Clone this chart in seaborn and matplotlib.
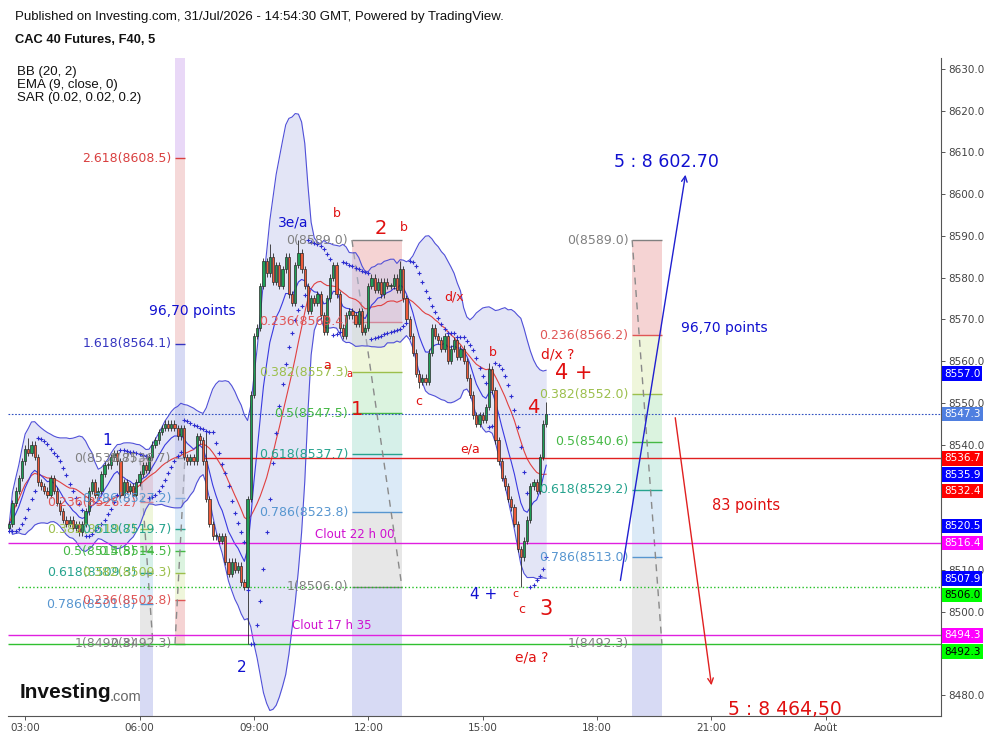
import numpy as np, pandas as pd
import matplotlib as mpl, matplotlib.pyplot as plt
import seaborn as sns
import matplotlib.transforms as mtransforms

sns.set_theme(style='white')
plt.rcParams['font.family'] = ['DejaVu Sans']

#%% data (5-minute closes, 02:35 -> 16:40)
seg_0235 = [8521, 8526, 8529, 8532, 8536, 8539, 8538, 8540, 8537, 8531, 8530, 8529]
seg_0335 = [8528, 8532, 8529, 8526, 8524, 8522, 8521, 8522, 8520, 8521, 8519, 8521]
seg_0435 = [8524, 8529, 8531, 8528, 8529, 8533, 8535, 8535, 8537, 8538, 8536, 8528]
seg_0535 = [8531, 8529, 8530, 8528, 8531, 8533, 8535, 8534, 8537, 8540, 8541, 8543]
seg_0635 = [8544, 8545, 8544, 8545, 8544, 8542, 8544, 8537, 8536, 8537, 8536, 8542]
seg_0735 = [8541, 8536, 8527, 8521, 8518, 8518, 8517, 8518, 8512, 8509, 8512, 8510]
seg_0835 = [8511, 8507, 8506, 8527, 8552, 8566, 8568, 8578, 8584, 8581, 8585, 8579]
seg_0935 = [8583, 8578, 8582, 8585, 8576, 8574, 8583, 8586, 8582, 8578, 8572, 8575]
seg_1035 = [8574, 8576, 8571, 8567, 8575, 8580, 8583, 8576, 8568, 8566, 8571, 8572]
seg_1135 = [8571, 8569, 8572, 8567, 8568, 8578, 8580, 8577, 8579, 8576, 8579, 8578]
seg_1235 = [8578, 8580, 8577, 8582, 8575, 8570, 8566, 8562, 8557, 8555, 8556, 8555]
seg_1335 = [8562, 8568, 8566, 8565, 8563, 8566, 8560, 8563, 8565, 8561, 8563, 8560]
seg_1435 = [8556, 8552, 8547, 8545, 8547, 8546, 8549, 8558, 8553, 8541, 8536, 8532]
seg_1535 = [8530, 8527, 8525, 8521, 8515, 8513, 8517, 8522, 8530, 8531, 8529, 8537, 8545, 8547.3]
first_open = 8520.0
# notable wick extremes {bar index: value}
wick_highs = {6: 8541.5, 62: 8543.0, 82: 8588.0, 91: 8589.0, 123: 8584.0, 151: 8559.5, 169: 8550.2}
wick_lows = {75: 8492.3, 129: 8553.5, 161: 8506.0}

# fibonacci tools: price at level 0 / level 1, time span (hours)
fib_p0 = [8536.7, 8492.3, 8589.0, 8588.97]
fib_p1 = [8492.3, 8536.7, 8506.0, 8492.3]
fib_t0 = [6.01, 6.93, 11.57, 18.92]
fib_t1 = [6.35, 7.19, 12.88, 19.70]
fib_label_max = [1, 2.618, 1, 1]
fib_fill_max = [1.618, 3.618, 1.618, 1.618]
fib_levels = [0, 0.236, 0.382, 0.5, 0.618, 0.786, 1, 1.618, 2.618, 3.618]
fib_names = ['0', '0.236', '0.382', '0.5', '0.618', '0.786', '1', '1.618', '2.618', '3.618']
fib_line_colors = ['#808080', '#e05656', '#9cbf4c', '#45b845', '#26a38e', '#5796d0',
                   '#808080', '#3535c0', '#d94040', '#9c4fd0']
fib_fill_colors = ['#f3c9c9', '#ebf4d2', '#d2f1d8', '#ccede4', '#d2e5f5', '#e2e2e2',
                   '#ced1f2', '#f3cfcf', '#e4cff5']

# horizontal drawn lines
hl_values = [8536.7, 8516.4, 8494.3, 8506.0, 8492.3]
hl_start = [7.68, 2.55, 2.55, 2.81, 2.55]
hl_colors = ['#e02020', '#e020e0', '#e020e0', '#20c020', '#30c030']
hl_styles = ['-', '-', '-', ':', '-']
last_price = 8547.3

# right axis price tags
tag_values = [8557.0, 8547.3, 8536.7, 8535.9, 8532.4, 8520.5, 8516.4, 8507.9, 8506.0, 8494.3, 8492.3]
tag_colors = ['#0000ff', '#4f7fe0', '#ff0000', '#0000ff', '#ff0000', '#0000ff', '#ff00ff',
              '#0000ff', '#00ff00', '#ff00ff', '#00ff00']
tag_text = ['white'] * 8 + ['black', 'white', 'black']
hidden_ticks = [8490, 8520, 8530]   # covered by tags on the reference

xtick_hours = [3, 6, 9, 12, 15, 18, 21, 24]
xtick_labels = ['03:00', '06:00', '09:00', '12:00', '15:00', '18:00', '21:00', 'Août']

# wave labels (hour, price, text, colour, size)
notes = [
    (7.38, 8572.0, '96,70 points', '#1010d0', 10),
    (21.33, 8567.9, '96,70 points', '#1010d0', 10),
    (21.91, 8525.5, '83 points', '#e01010', 10.5),
    (19.83, 8607.7, '5 : 8 602.70', '#1010d0', 12.5),
    (22.93, 8476.6, '5 : 8 464,50', '#e01010', 13.5),
    (5.15, 8541.1, '1', '#1010d0', 11),
    (8.69, 8486.5, '2', '#1010d0', 11),
    (10.03, 8593.1, '3e/a', '#1010d0', 10),
    (15.03, 8504.2, '4 +', '#1010d0', 11),
    (11.18, 8595.3, 'b', '#e01010', 9),
    (12.33, 8591.7, '2', '#e01010', 14),
    (12.94, 8591.9, 'b', '#e01010', 9),
    (10.92, 8559.0, 'a', '#e01010', 9),
    (11.50, 8556.9, 'a', '#e01010', 7),
    (11.70, 8548.3, '1', '#e01010', 14),
    (14.25, 8575.4, 'd/x', '#e01010', 9),
    (13.33, 8550.4, 'c', '#e01010', 9),
    (15.27, 8562.0, 'b', '#e01010', 9),
    (14.67, 8538.9, 'e/a', '#e01010', 9),
    (16.32, 8549.0, '4', '#e01010', 14),
    (16.97, 8561.5, 'd/x ?', '#e01010', 10),
    (17.39, 8557.2, '4 +', '#e01010', 15),
    (15.87, 8504.2, 'c', '#e01010', 8),
    (16.03, 8500.4, 'c', '#e01010', 9),
    (16.66, 8500.6, '3', '#e01010', 15),
    (16.29, 8488.9, 'e/a ?', '#e01010', 10),
    (11.65, 8518.5, 'Clout 22 h 00', '#d010d0', 8.5),
    (11.05, 8496.6, 'Clout 17 h 35', '#d010d0', 8.5),
]
arrows = [((18.60, 8506.8), (20.33, 8605.3), '#2020d0'),
          ((20.04, 8547.1), (21.01, 8481.7), '#e02020')]

#%% series
closes = np.array(seg_0235 + seg_0335 + seg_0435 + seg_0535 + seg_0635 + seg_0735 + seg_0835
                  + seg_0935 + seg_1035 + seg_1135 + seg_1235 + seg_1335 + seg_1435 + seg_1535,
                  dtype=float)
n = len(closes)
hours = (2 + 35 / 60) + np.arange(n) * 5 / 60
opens = np.r_[first_open, closes[:-1]]
highs = np.maximum(opens, closes) + 0.8
lows = np.minimum(opens, closes) - 0.8
for k, v in wick_highs.items(): highs[k] = v
for k, v in wick_lows.items(): lows[k] = v

s = pd.Series(closes)
basis = s.rolling(20, min_periods=1).mean()
sd = s.rolling(20, min_periods=1).std(ddof=0).fillna(0)
upper, lower = basis + 2 * sd, basis - 2 * sd
ema = s.ewm(span=9, adjust=False).mean()

def psar(high, low, af0=0.02, step=0.02, afmax=0.2):
    sar = np.zeros(len(high))
    bull, af, ep = True, af0, high[0]
    sar[0] = low[0]
    for i in range(1, len(high)):
        prev = sar[i - 1]
        v = prev + af * (ep - prev)
        if bull:
            v = min(v, low[i - 1], low[max(i - 2, 0)])
            if low[i] < v:
                bull, v, ep, af = False, ep, low[i], af0
            elif high[i] > ep:
                ep, af = high[i], min(af + step, afmax)
        else:
            v = max(v, high[i - 1], high[max(i - 2, 0)])
            if high[i] > v:
                bull, v, ep, af = True, ep, high[i], af0
            elif low[i] < ep:
                ep, af = low[i], min(af + step, afmax)
        sar[i] = v
    return sar

sar = psar(highs, lows)

#%% figure
fig = plt.figure(figsize=(9.93, 7.41), dpi=100)
ax = fig.add_axes([8 / 993, 25 / 741, 933 / 993, 658 / 741])
xmin, xmax = 2.55, 27.02
ax.set_xlim(xmin, xmax)
ax.set_ylim(8475.0, 8632.6)

# fibonacci tools
for p0, p1, t0, t1, lmax, fmax in zip(fib_p0, fib_p1, fib_t0, fib_t1, fib_label_max, fib_fill_max):
    vals = [p0 + L * (p1 - p0) for L in fib_levels]
    for k in range(len(fib_levels) - 1):
        if fib_levels[k + 1] > fmax:
            break
        ax.fill_between([t0, t1], vals[k], vals[k + 1], color=fib_fill_colors[k],
                        alpha=0.8, lw=0, zorder=0.5)
    for L, name, v, c in zip(fib_levels, fib_names, vals, fib_line_colors):
        if L > lmax:
            break
        ax.hlines(v, t0, t1, color=c, lw=1, zorder=1)
        ax.text(t0 - 0.1, v, f'{name}({v:.1f})', color=c, fontsize=9,
                ha='right', va='center', zorder=5)
    ax.plot([t0, t1], [p0, p1], color='#8a8a8a', lw=1, ls=(0, (5, 4)), zorder=1.2)

# bollinger bands, ema, sar
ax.fill_between(hours, lower, upper, color='#c3c7ec', alpha=0.45, lw=0, zorder=1.5)
sns.lineplot(x=hours, y=upper, ax=ax, color='#5050d8', lw=0.8, estimator=None, sort=False, zorder=2)
sns.lineplot(x=hours, y=lower, ax=ax, color='#5050d8', lw=0.8, estimator=None, sort=False, zorder=2)
sns.lineplot(x=hours, y=basis, ax=ax, color='#e04040', lw=0.8, estimator=None, sort=False, zorder=2)
sns.lineplot(x=hours, y=ema, ax=ax, color='#3a3ae0', lw=0.8, estimator=None, sort=False, zorder=2)
sns.scatterplot(x=hours, y=sar, ax=ax, marker='+', s=7, color='#2e2ed0', linewidth=0.8, zorder=3.6)

# horizontal lines
for v, x0, c, ls in zip(hl_values, hl_start, hl_colors, hl_styles):
    ax.hlines(v, x0, xmax, color=c, lw=1, ls=ls, zorder=2.5)
ax.axhline(last_price, color='#3050c0', lw=0.8, ls=(0, (1.5, 1.5)), zorder=2.5)

# candles
up = closes >= opens
body_col = np.where(up, '#1f9e55', '#ee5a3a')
ax.vlines(hours, lows, highs, color='#2a2a2a', lw=0.6, zorder=3.5)
ax.bar(hours, np.maximum(np.abs(closes - opens), 0.3), bottom=np.minimum(opens, closes),
       width=0.058, color=body_col, edgecolor='#2a2a2a', linewidth=0.5, zorder=4)

# wave labels and arrows
for h, v, txt, c, fs in notes:
    ax.text(h, v, txt, color=c, fontsize=fs, ha='center', va='center', zorder=6)
for (x0, y0), (x1, y1), c in arrows:
    ax.annotate('', xy=(x1, y1), xytext=(x0, y0),
                arrowprops=dict(arrowstyle='->', color=c, lw=1, mutation_scale=10), zorder=6)

# axes styling
for sp in ['left', 'top']:
    ax.spines[sp].set_visible(False)
for sp in ['right', 'bottom']:
    ax.spines[sp].set_color('#555555')
    ax.spines[sp].set_linewidth(0.8)
ax.yaxis.tick_right()
yt = np.arange(8480, 8631, 10)
ax.set_yticks(yt)
ax.set_yticklabels(['' if v in hidden_ticks else f'{v:.1f}' for v in yt])
ax.set_xticks(xtick_hours)
ax.set_xticklabels(xtick_labels)
ax.tick_params(axis='both', which='both', length=3, width=0.7, color='#555555',
               labelsize=7.5, labelcolor='#444444', pad=2)
ax.tick_params(axis='y', right=True, left=False)
ax.tick_params(axis='x', bottom=True)
ax.set_xlabel('')
ax.set_ylabel('')

# price tags on the right axis, pushed apart like the platform does
trans = mtransforms.blended_transform_factory(ax.transAxes, ax.transData)
prev = None
for v, c, tc in sorted(zip(tag_values, tag_colors, tag_text), key=lambda r: -r[0]):
    y = v if prev is None else min(v, prev - 3.9)
    prev = y
    ax.text(1.003, y, f'{v:.1f}', transform=trans, fontsize=7.5, color=tc, ha='left', va='center',
            bbox=dict(boxstyle='square,pad=0.22', fc=c, ec='none'), zorder=10, clip_on=False)

# header
fig.text(15 / 993, 1 - 17 / 741, 'Published on Investing.com, 31/Jul/2026 - 14:54:30 GMT, Powered by TradingView.',
         fontsize=9.5, family='Liberation Sans', va='center', color='#111111')
fig.text(15 / 993, 1 - 40 / 741, 'CAC 40 Futures, F40, 5', fontsize=9.3, weight='bold',
         family='Liberation Sans', va='center', color='#111111')
for k, txt in enumerate(['BB (20, 2)', 'EMA (9, close, 0)', 'SAR (0.02, 0.02, 0.2)']):
    fig.text(17 / 993, 1 - (72 + 13 * k) / 741, txt, fontsize=9.5, family='Liberation Sans',
             va='center', color='#111111')

# logo
fig.text(20 / 993, 1 - 693 / 741, 'Investing', fontsize=15, weight='bold',
         family=['Liberation Sans Narrow', 'Liberation Sans'], va='center', color='#111111')
fig.text(110 / 993, 1 - 697 / 741, '.com', fontsize=10.5,
         family=['Liberation Sans Narrow', 'Liberation Sans'], va='center', color='#666666')

fig.savefig('out.png', dpi=100, facecolor='white')
